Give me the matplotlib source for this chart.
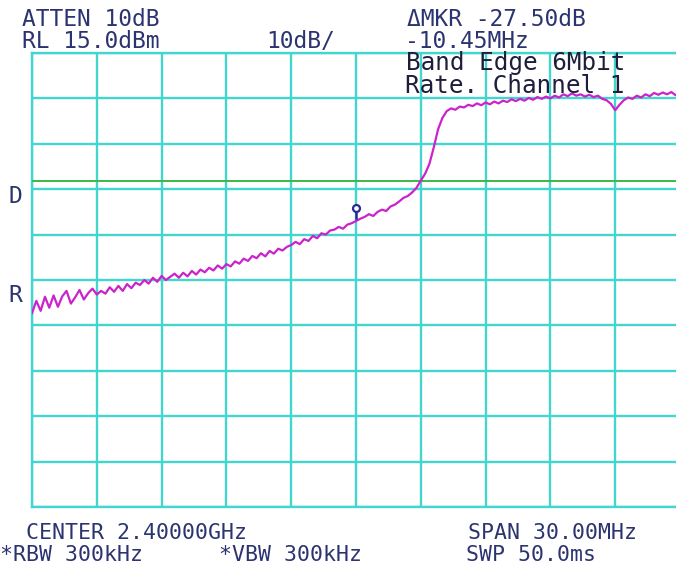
import numpy as np
import matplotlib
matplotlib.use("Agg")
import matplotlib.pyplot as plt

# ---- instrument settings ----
center_mhz = 2400.0
span_mhz = 30.0
ref_level = 15.0
db_per_div = 10.0
display_line = -13.2
marker_freq = 2400.0
marker_level = -21.4

# ---- trace (dBm), 0.2 MHz steps from 2385 to 2415 MHz ----
trace_db = [
    -42.3, -39.6, -41.8, -38.7, -41.1,
    -38.4, -40.9, -38.6, -37.4, -40.2,
    -38.8, -37.2, -39.3, -37.9, -36.9,
    -38.2, -37.4, -38.0, -36.6, -37.6,
    -36.3, -37.4, -35.9, -36.8, -35.6,
    -36.1, -35.0, -35.8, -34.5, -35.4,
    -34.1, -35.0, -34.3, -33.6, -34.5,
    -33.4, -34.2, -33.0, -33.8, -32.7,
    -33.3, -32.3, -32.9, -31.8, -32.5,
    -31.5, -32.0, -30.9, -31.4, -30.3,
    -30.8, -29.7, -30.2, -29.1, -29.8,
    -28.6, -29.2, -28.1, -28.5, -27.7,
    -27.3, -26.6, -27.1, -26.0, -26.4,
    -25.3, -25.8, -24.7, -25.0, -24.1,
    -23.9, -23.3, -23.7, -22.8, -22.5,
    -22.0, -21.5, -21.1, -20.5, -20.9,
    -20.0, -19.5, -19.8, -18.8, -18.4,
    -17.7, -16.9, -16.5, -15.7, -14.7,
    -13.1, -11.6, -9.4, -5.8, -1.8,
    0.7, 2.2, 2.8, 2.5, 3.2,
    3.0, 3.6, 3.3, 3.9, 3.5,
    4.1, 3.7, 4.3, 3.9, 4.5,
    4.2, 4.8, 4.4, 4.9, 4.5,
    5.1, 4.7, 5.3, 4.9, 5.4,
    5.0, 5.6, 5.2, 5.9, 5.5,
    6.1, 5.6, 5.9, 5.4, 5.8,
    5.3, 5.6, 4.9, 4.6, 3.8,
    2.4, 3.6, 4.6, 5.2, 4.9,
    5.6, 5.2, 5.9, 5.5, 6.2,
    5.8, 6.3, 5.9, 6.4, 5.7,
    5.9,
]

header_left = ["ATTEN 10dB", "RL 15.0dBm"]
header_scale = "10dB/"
header_right = ["\u0394MKR -27.50dB", "-10.45MHz"]
annotation = ["Band Edge 6Mbit", "Rate. Channel 1"]
footer_top = ["CENTER 2.40000GHz", "SPAN 30.00MHz"]
footer_bottom = ["*RBW 300kHz", "*VBW 300kHz", "SWP 50.0ms"]

f_start = center_mhz - span_mhz / 2
f_stop = center_mhz + span_mhz / 2
freqs = np.linspace(f_start, f_stop, len(trace_db))

W, H = 676, 566
fig = plt.figure(figsize=(W / 100, H / 100), dpi=100)
fig.patch.set_facecolor("white")

ax_l, ax_r, ax_t, ax_b = 32, 680, 53, 507
ax = fig.add_axes([ax_l / W, 1 - ax_b / H, (ax_r - ax_l) / W, (ax_b - ax_t) / H])
ax.set_xlim(f_start, f_stop)
ax.set_ylim(ref_level - 10 * db_per_div, ref_level)

grid_c = "#42d6ce"
ax.set_xticks(np.arange(f_start, f_stop + 0.01, span_mhz / 10))
ax.set_yticks(np.arange(ref_level - 10 * db_per_div, ref_level + 0.01, db_per_div))
ax.grid(True, color=grid_c, linewidth=1.7)
ax.tick_params(length=0, labelbottom=False, labelleft=False)
for s in ax.spines.values():
    s.set_color(grid_c)
    s.set_linewidth(1.7)
ax.set_axisbelow(True)

ax.axhline(display_line, color="#3cb84a", linewidth=1.4, zorder=3)
ax.plot(freqs, trace_db, color="#cc22cc", linewidth=1.6, zorder=4)

# marker symbol
ax.plot([marker_freq, marker_freq], [marker_level, marker_level + 1.6],
        color="#2a2a9a", linewidth=1.8, zorder=5)
ax.plot([marker_freq], [marker_level + 2.2], marker="o", markersize=5,
        markerfacecolor="white", markeredgecolor="#2a2a9a", markeredgewidth=1.6,
        zorder=6)

mono = "DejaVu Sans Mono"
fs = 16.5
txt_c = "#2c3470"


def px(x, y, s, color=txt_c, size=fs):
    fig.text(x / W, 1 - y / H, s, fontsize=size, family=mono, color=color,
             ha="left", va="baseline")


px(22, 26, header_left[0])
px(22, 48, header_left[1])
px(266, 48, header_scale)
px(407, 26, header_right[0])
px(405, 48, header_right[1])
px(406, 70, annotation[0], color="#1e1e3c", size=17.5)
px(405, 93, annotation[1], color="#1e1e3c", size=17.5)
px(8, 203, "D")
px(8, 302, "R")
px(26, 539, footer_top[0], size=15.5)
px(468, 539, footer_top[1], size=15.5)
px(0, 561, footer_bottom[0], size=15.5)
px(219, 561, footer_bottom[1], size=15.5)
px(466, 561, footer_bottom[2], size=15.5)

fig.savefig("out.png", dpi=100, facecolor="white")
